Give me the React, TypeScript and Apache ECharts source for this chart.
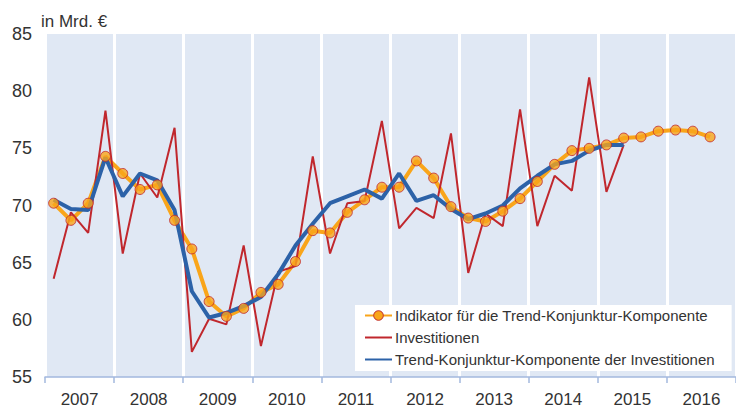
import React, { useEffect, useRef } from "react";
import * as echarts from "echarts";

const years = ["2007", "2008", "2009", "2010", "2011", "2012", "2013", "2014", "2015", "2016"];
const quarters: string[] = years.flatMap((y) => ["Q1", "Q2", "Q3", "Q4"].map((q) => y + q));

const indikator = [70.2, 68.7, 70.2, 74.3, 72.8, 71.4, 71.8, 68.7, 66.2, 61.6, 60.3, 61.0, 62.4, 63.1, 65.1, 67.8, 67.6, 69.4, 70.5, 71.6, 71.6, 73.9, 72.4, 69.9, 68.9, 68.6, 69.5, 70.6, 72.1, 73.6, 74.8, 75.0, 75.3, 75.9, 76.0, 76.5, 76.6, 76.5, 76.0];
const investitionen = [63.6, 69.4, 67.6, 78.3, 65.8, 72.8, 70.7, 76.8, 57.2, 60.1, 59.6, 66.5, 57.7, 64.2, 64.7, 74.3, 65.8, 70.2, 70.4, 77.4, 68.0, 69.8, 68.9, 76.3, 64.1, 69.3, 68.2, 78.4, 68.2, 72.6, 71.3, 81.2, 71.2, 75.3];
const trend = [70.5, 69.7, 69.6, 74.2, 70.8, 72.8, 72.2, 69.6, 62.5, 60.2, 60.6, 61.2, 62.0, 64.0, 66.5, 68.4, 70.2, 70.8, 71.4, 70.6, 72.8, 70.4, 70.9, 69.7, 68.8, 69.3, 70.0, 71.5, 72.6, 73.6, 73.9, 74.8, 75.3, 75.3];

const nameInd = "Indikator für die Trend-Konjunktur-Komponente";
const nameInv = "Investitionen";
const nameTrend = "Trend-Konjunktur-Komponente der Investitionen";

const FONT = "Liberation Sans, Arial, sans-serif";
const ORANGE = "#f9a51a";
const RED = "#c0272d";
const BLUE = "#2c62a8";

export default function App() {
  const ref = useRef<HTMLDivElement>(null);
  useEffect(() => {
    document.body.style.margin = "0";
    const chart = echarts.init(ref.current!, null, { renderer: "svg" });
    chart.setOption({
      animation: false,
      textStyle: { fontFamily: FONT },
      grid: {
        left: 45,
        top: 34,
        width: 695,
        height: 343,
        show: true,
        backgroundColor: "#e0e8f4",
        borderWidth: 0,
      },
      graphic: [
        {
          type: "text",
          left: 41,
          top: 13,
          style: { text: "in Mrd. €", fontSize: 17, fill: "#333", fontFamily: FONT },
        },
      ],
      legend: {
        orient: "vertical",
        left: 355,
        top: 305,
        data: [
          { name: nameInd, itemStyle: { color: ORANGE, borderColor: RED, borderWidth: 1 } },
          { name: nameInv, itemStyle: { opacity: 0 } },
          { name: nameTrend, itemStyle: { opacity: 0 } },
        ],
        backgroundColor: "#ffffff",
        padding: [3, 17, 4, 9],
        itemWidth: 27,
        itemHeight: 12,
        itemGap: 7,
        textStyle: { fontSize: 15, color: "#333", fontFamily: FONT, padding: [0, 0, 0, -2] },
      },
      xAxis: [
        {
          type: "category",
          data: years,
          position: "bottom",
          boundaryGap: true,
          axisLine: { show: true, lineStyle: { color: "#a3b8de", width: 1.5 } },
          axisTick: { show: true, length: 6, lineStyle: { color: "#a3b8de", width: 1.5 } },
          axisLabel: { fontSize: 17, color: "#333", margin: 14, fontFamily: FONT },
          splitLine: { show: true, interval: 0, lineStyle: { color: "#ffffff", width: 3 } },
        },
        {
          type: "category",
          data: quarters,
          position: "bottom",
          boundaryGap: true,
          show: false,
        },
      ],
      yAxis: {
        type: "value",
        min: 55,
        max: 85,
        interval: 5,
        axisLine: { show: false },
        axisTick: { show: false },
        splitLine: { show: false },
        axisLabel: { fontSize: 18, color: "#333", margin: 13, fontFamily: FONT },
      },
      series: [
        {
          name: nameInd,
          type: "line",
          xAxisIndex: 1,
          data: indikator,
          symbol: "circle",
          symbolSize: 9,
          showSymbol: false,
          lineStyle: { color: ORANGE, width: 4 },
          itemStyle: { color: ORANGE, borderColor: RED, borderWidth: 1 },
          z: 2,
        },
        {
          name: nameInv,
          type: "line",
          xAxisIndex: 1,
          data: investitionen,
          symbol: "none",
          lineStyle: { color: RED, width: 2 },
          itemStyle: { color: RED },
          z: 3,
        },
        {
          name: nameTrend,
          type: "line",
          xAxisIndex: 1,
          data: trend,
          symbol: "none",
          lineStyle: { color: BLUE, width: 4 },
          itemStyle: { color: BLUE },
          z: 4,
        },
        {
          name: "marker",
          type: "scatter",
          xAxisIndex: 1,
          data: indikator,
          symbol: "circle",
          symbolSize: 10,
          itemStyle: { color: ORANGE, borderColor: RED, borderWidth: 1 },
          z: 5,
        },
      ],
    });
    return () => chart.dispose();
  }, []);
  return <div ref={ref} style={{ width: 736, height: 410 }} />;
}
